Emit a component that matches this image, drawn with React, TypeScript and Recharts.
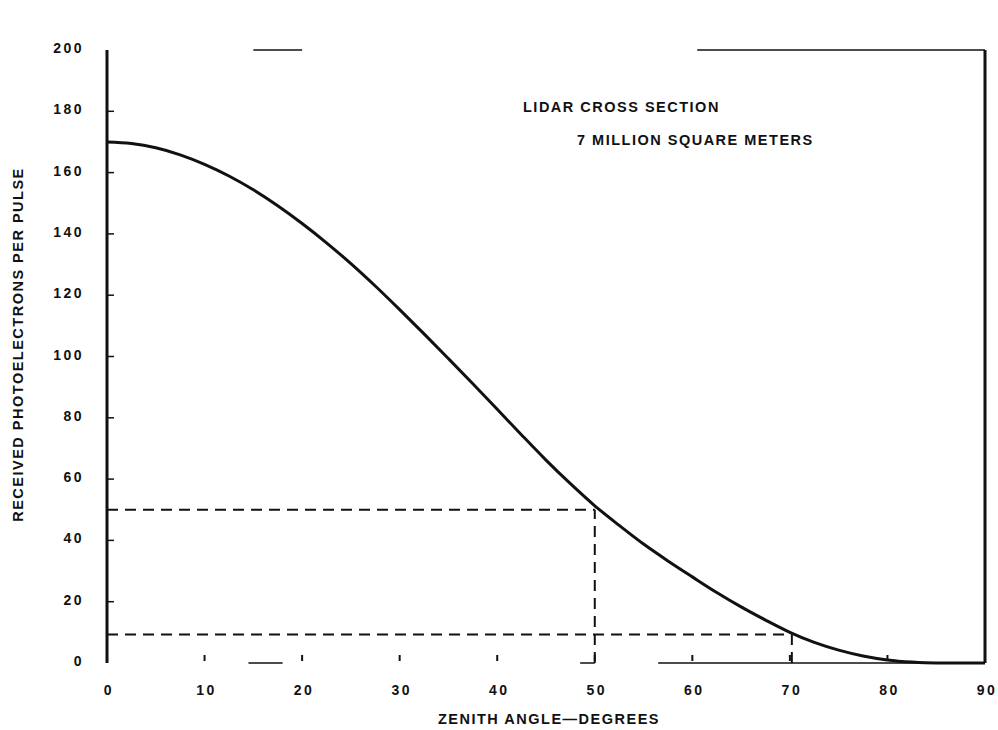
import React from 'react';
import { ComposedChart, Line, XAxis, YAxis, ReferenceLine, Label } from 'recharts';

// Zenith angle (degrees) and received photoelectrons per pulse
const zenithAngles = [0, 2.5, 5, 7.5, 10, 12.5, 15, 17.5, 20, 22.5, 25, 27.5, 30, 32.5, 35, 37.5, 40, 42.5, 45, 47.5, 50, 52.5, 55, 57.5, 60, 62.5, 65, 67.5, 70, 72.5, 75, 77.5, 80, 82.5, 85, 90];
const photoelectrons = [170, 169.5, 168.1, 165.8, 162.7, 158.9, 154.4, 149.2, 143.4, 137.1, 130.3, 123, 115.3, 107.4, 99.3, 91.1, 82.8, 74.4, 66.2, 58.5, 51.3, 44.9, 38.8, 33.3, 28.1, 23, 18.3, 14, 10, 6.7, 4.2, 2.3, 1, 0.3, 0, 0];

const xTicks = [0, 10, 20, 30, 40, 50, 60, 70, 80, 90];
const yTicks = [0, 20, 40, 60, 80, 100, 120, 140, 160, 180, 200];

// Dashed guide lines: [angle, level]
const guideAngles = [50, 70.2];
const guideLevels = [50, 9.3];

// Visible pieces of the (faded) top and bottom frame lines, [from, to] in degrees
const topFrameSegments = [[15, 20], [60.5, 90]];
const bottomFrameSegments = [[14.5, 18], [48.5, 50], [56.5, 90]];

const titleText = 'LAGEOS SIGNAL STRENGTHS';
const xTitle = 'ZENITH ANGLE\u2014DEGREES';
const yTitle = 'RECEIVED PHOTOELECTRONS PER PULSE';
const noteLines = ['LIDAR CROSS SECTION', '7 MILLION SQUARE METERS'];

const data = zenithAngles.map((a, i) => ({ angle: a, value: photoelectrons[i] }));

const FONT = '"Liberation Sans", Arial, Helvetica, sans-serif';
const INK = '#111';
const TXT = 14.5;
const SPACING = 1.5;

const BottomTick = (props: any) => {
  const { x, y, payload } = props;
  const v = payload.value;
  const inner = v !== 0 && v !== 90;
  return (
    <g>
      {inner && <line x1={x} y1={y - 2} x2={x} y2={y - 8} stroke={INK} strokeWidth={2} />}
      <text x={x + 2} y={y + 32} textAnchor="middle" fontFamily={FONT} fontWeight="bold" fontSize={14} letterSpacing={2.5} fill={INK}>
        {v}
      </text>
    </g>
  );
};

const TopTick = (props: any) => {
  const { x, y, payload } = props;
  const v = payload.value;
  if (v === 0 || v === 90) return <g />;
  return <line x1={x} y1={y + 3} x2={x} y2={y + 9} stroke={INK} strokeWidth={2} />;
};

const LeftTick = (props: any) => {
  const { x, y, payload } = props;
  const v = payload.value;
  const inner = v !== 0 && v !== 200;
  return (
    <g>
      {inner && <line x1={x} y1={y} x2={x + 7} y2={y} stroke={INK} strokeWidth={1.5} />}
      <text x={x - 23} y={y + 3} textAnchor="end" fontFamily={FONT} fontWeight="bold" fontSize={14} letterSpacing={2.5} fill={INK}>
        {v}
      </text>
    </g>
  );
};

const RightTick = (props: any) => {
  const { x, y, payload } = props;
  const v = payload.value;
  if (v !== 180) return <g />;
  return <line x1={x} y1={y} x2={x - 7} y2={y} stroke={INK} strokeWidth={2} />;
};

export default function App() {
  return (
    <div style={{ position: 'absolute', left: 0, top: 0, width: 998, height: 730, background: '#fff' }}>
      <ComposedChart width={998} height={730} data={data} margin={{ top: 50, right: 13, bottom: 0, left: 0 }}>
        <XAxis
          dataKey="angle"
          type="number"
          domain={[0, 90]}
          ticks={xTicks}
          axisLine={false}
          tickLine={false}
          tickSize={0}
          tickMargin={0}
          height={67}
          tick={<BottomTick />}
          interval={0}
        >
          <Label
            content={(p: any) => {
              const vb = p.viewBox;
              return (
                <text x={549} y={vb.y + 61} textAnchor="middle" fontFamily={FONT} fontWeight="bold" fontSize={TXT} letterSpacing={SPACING} fill={INK}>
                  {xTitle}
                </text>
              );
            }}
          />
        </XAxis>
        <XAxis
          xAxisId="top"
          orientation="top"
          type="number"
          domain={[0, 90]}
          ticks={xTicks}
          axisLine={false}
          tickLine={false}
          tickSize={0}
          tickMargin={0}
          height={0}
          tick={<TopTick />}
          interval={0}
        >
          <Label
            content={() => (
              <text x={533} y={23} textAnchor="middle" fontFamily={FONT} fontWeight="bold" fontSize={TXT} letterSpacing={SPACING} fill={INK}>
                {titleText}
              </text>
            )}
          />
        </XAxis>
        <YAxis
          type="number"
          domain={[0, 200]}
          ticks={yTicks}
          axisLine={false}
          tickLine={false}
          tickSize={0}
          tickMargin={0}
          width={107}
          tick={<LeftTick />}
          interval={0}
        >
          <Label
            content={(p: any) => {
              const vb = p.viewBox;
              const cx = 19;
              const cy = vb.y + vb.height / 2 - 12;
              return (
                <text x={cx} y={cy} transform={`rotate(-90 ${cx} ${cy})`} textAnchor="middle" dominantBaseline="middle" fontFamily={FONT} fontWeight="bold" fontSize={TXT} letterSpacing={SPACING} fill={INK}>
                  {yTitle}
                </text>
              );
            }}
          />
        </YAxis>
        <YAxis
          yAxisId="right"
          orientation="right"
          type="number"
          domain={[0, 200]}
          ticks={yTicks}
          axisLine={false}
          tickLine={false}
          tickSize={0}
          tickMargin={0}
          width={0}
          tick={<RightTick />}
          interval={0}
        />

        {/* frame */}
        <ReferenceLine x={0} stroke={INK} strokeWidth={3} />
        <ReferenceLine x={90} stroke={INK} strokeWidth={3} />
        {topFrameSegments.map(([a, b], i) => (
          <ReferenceLine key={`t${i}`} segment={[{ x: a, y: 200 }, { x: b, y: 200 }]} stroke={INK} strokeWidth={1.5} />
        ))}
        {bottomFrameSegments.map(([a, b], i) => (
          <ReferenceLine key={`b${i}`} segment={[{ x: a, y: 0 }, { x: b, y: 0 }]} stroke={INK} strokeWidth={1.5} />
        ))}

        {/* dashed guides */}
        {guideAngles.map((a, i) => (
          <ReferenceLine key={`gh${i}`} segment={[{ x: 0, y: guideLevels[i] }, { x: a, y: guideLevels[i] }]} stroke={INK} strokeWidth={2} strokeDasharray="11 7" />
        ))}
        {guideAngles.map((a, i) => (
          <ReferenceLine key={`gv${i}`} segment={[{ x: a, y: 0 }, { x: a, y: guideLevels[i] }]} stroke={INK} strokeWidth={2} strokeDasharray="11 7" />
        ))}

        <Line type="monotone" dataKey="value" stroke={INK} strokeWidth={3} dot={false} isAnimationActive={false} />
      </ComposedChart>
      <div style={{ position: 'absolute', left: 523, top: 99, fontFamily: FONT, fontWeight: 'bold', fontSize: TXT, letterSpacing: SPACING, color: INK, whiteSpace: 'nowrap', lineHeight: '16px' }}>
        {noteLines[0]}
      </div>
      <div style={{ position: 'absolute', left: 577, top: 132, fontFamily: FONT, fontWeight: 'bold', fontSize: TXT, letterSpacing: SPACING, color: INK, whiteSpace: 'nowrap', lineHeight: '16px' }}>
        {noteLines[1]}
      </div>
    </div>
  );
}
